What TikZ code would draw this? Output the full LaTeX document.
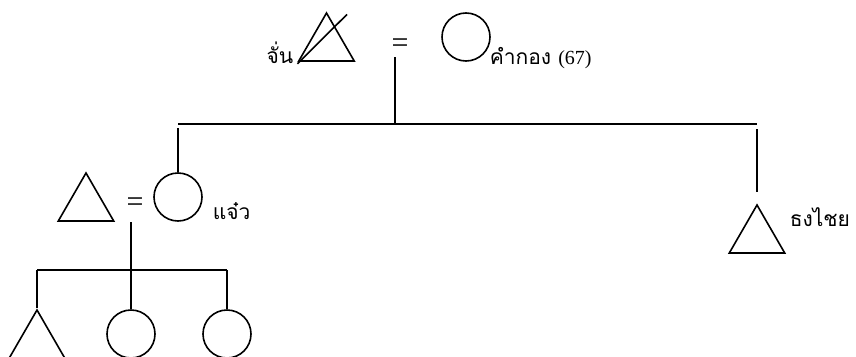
\documentclass[tikz,border=0pt]{standalone}
\usepackage{fontspec}
\setmainfont{Liberation Serif}
\newfontfamily\thaifont[Script=Thai]{Loma}
\usetikzlibrary{shapes.geometric}
\begin{document}
\begin{tikzpicture}[x=1pt,y=-1pt,line width=1.6pt,
  man/.style={draw,regular polygon,regular polygon sides=3,minimum size=64pt,inner sep=0pt},
  woman/.style={draw,circle,minimum size=48pt,inner sep=0pt},
  eqsign/.style={font=\fontsize{30}{30}\selectfont,inner sep=0pt},
  thainame/.style={font=\thaifont\fontsize{21}{24}\selectfont,inner sep=0pt}]
\useasboundingbox (0,0) rectangle (856,356);
% parents
\node[man] (chan) at (326.5,45) {};
\draw ([shift={(0,2)}]chan.corner 2) -- ([shift={(20.5,3)}]chan.corner 1);
\node[thainame,anchor=east] (chanlbl) at (294,53) {จั่น};
\node[eqsign] (eqtop) at (400,46) {=};
\node[woman] (khamkong) at (466,37) {};
\node[thainame,anchor=west] (khamkonglbl) at (489,58) {คำกอง {\rmfamily\fontsize{20}{22}\selectfont(67)}};
\coordinate (mtop) at (395,57);
\coordinate (bartop) at (395,124);
\draw (mtop) -- (bartop);
% children
\node[woman] (jaew) at (178,197) {};
\node[thainame,anchor=west] (jaewlbl) at (212,211) {แจ๋ว};
\node[man] (jaewhus) at (86,205) {};
\node[eqsign] (eqmid) at (135,205) {=};
\node[man] (thongchai) at (757,237) {};
\node[thainame,anchor=west] (thongchailbl) at (789,217) {ธงไชย};
\draw (jaew.north |- bartop) -- (thongchai.corner 1 |- bartop);
\draw ([yshift=-4]jaew.north |- bartop) -- (jaew.north);
\draw ([yshift=-5]thongchai.corner 1 |- bartop) -- ([yshift=11]thongchai.corner 1);
% grandchildren
\coordinate (mmid) at (131,222);
\coordinate (barmid) at (131,270);
\draw (mmid) -- (barmid);
\node[man] (kid1) at (37,342) {};
\node[woman] (kid2) at (131,334) {};
\node[woman] (kid3) at (227,334) {};
\draw (kid1.corner 1 |- barmid) -- (kid3.north |- barmid);
\foreach \k in {kid1.corner 1,kid2.north,kid3.north}
  \draw (\k |- barmid) -- (\k);
\end{tikzpicture}
\end{document}
